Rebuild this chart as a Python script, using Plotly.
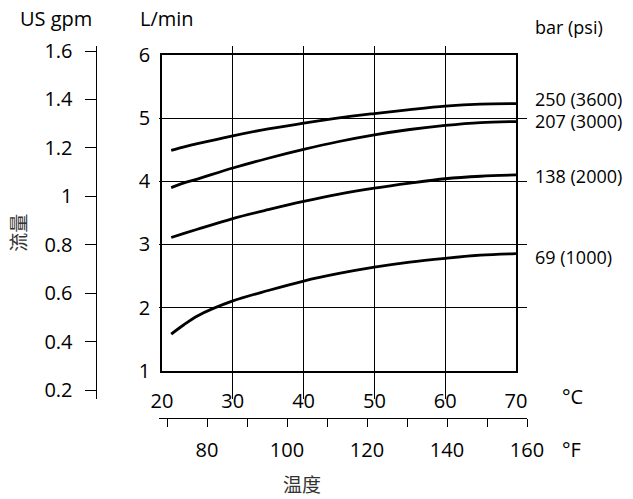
import plotly.graph_objects as go

# ---------------- data ----------------
temp_c = [21.3, 23, 25, 30, 35, 40, 45, 50, 55, 60, 65, 70]
flow_250 = [4.49, 4.54, 4.595, 4.72, 4.83, 4.92, 5.005, 5.073, 5.135, 5.19, 5.222, 5.23]
flow_207 = [3.90, 3.97, 4.035, 4.21, 4.365, 4.505, 4.63, 4.735, 4.82, 4.885, 4.93, 4.946]
flow_138 = [3.11, 3.17, 3.24, 3.41, 3.55, 3.68, 3.795, 3.89, 3.97, 4.04, 4.08, 4.10]
flow_69 = [1.58, 1.72, 1.867, 2.105, 2.27, 2.42, 2.54, 2.64, 2.72, 2.78, 2.83, 2.855]
series = [flow_250, flow_207, flow_138, flow_69]
pressure_labels = ["250 (3600)", "207 (3000)", "138 (2000)", "69 (1000)"]

lpm_ticks = [1, 2, 3, 4, 5, 6]
c_ticks = [20, 30, 40, 50, 60, 70]
gpm_ticks = [0.2, 0.4, 0.6, 0.8, 1.0, 1.2, 1.4, 1.6]
gpm_labels = ["0.2", "0.4", "0.6", "0.8", "1", "1.2", "1.4", "1.6"]
f_ticks = [70, 80, 90, 100, 110, 120, 130, 140, 150, 160]
f_labels = ["", "80", "", "100", "", "120", "", "140", "", "160"]

# ---------------- layout helpers ----------------
W, H = 633, 499
ML, MR, MT, MB = 80, 90, 40, 50
PW = W - ML - MR
PH = H - MT - MB


def px(x):
    return (x - ML) / PW


def py(y):
    return (H - MB - y) / PH


FONT = "Open Sans, Noto Sans, sans-serif"
CJK = "Noto Sans CJK SC"

fig = go.Figure()
for vals in series:
    fig.add_trace(go.Scatter(x=temp_c, y=vals, mode="lines",
                             line=dict(color="black", width=2.8, shape="spline", smoothing=0.9),
                             showlegend=False, hoverinfo="skip"))
# dummy traces to attach secondary axes
fig.add_trace(go.Scatter(x=[None], y=[None], xaxis="x", yaxis="y2", showlegend=False, hoverinfo="skip"))
fig.add_trace(go.Scatter(x=[None], y=[None], xaxis="x2", yaxis="y", showlegend=False, hoverinfo="skip"))

fig.update_layout(
    width=W, height=H,
    margin=dict(l=ML, r=MR, t=MT, b=MB),
    paper_bgcolor="white", plot_bgcolor="rgba(0,0,0,0)",
    font=dict(family=FONT, size=20, color="black"),
    xaxis=dict(domain=[px(162), px(516)], range=[20, 70], tickvals=c_ticks,
               showgrid=True, gridcolor="black", gridwidth=1,
               showline=True, linecolor="black", linewidth=1.6, mirror=True,
               ticks="", ticklabelstandoff=11, zeroline=False, anchor="y"),
    yaxis=dict(domain=[py(370.7), py(55)], range=[1, 6], tickvals=lpm_ticks,
               showgrid=True, gridcolor="black", gridwidth=1,
               showline=True, linecolor="black", linewidth=1.6, mirror=True,
               ticks="", ticklabelstandoff=6, zeroline=False, anchor="x"),
    yaxis2=dict(domain=[py(399), py(45.7)], range=[0.164, 1.622], anchor="free",
                position=px(95.7), tickvals=gpm_ticks, ticktext=gpm_labels,
                showgrid=False, showline=True, linecolor="black", linewidth=1.4,
                ticks="outside", ticklen=11, tickwidth=1.4, tickcolor="black",
                ticklabelstandoff=8, zeroline=False, side="left"),
    xaxis2=dict(domain=[px(159), px(527)], range=[68, 160], anchor="free",
                position=py(417.7), tickvals=f_ticks, ticktext=f_labels,
                showgrid=False, showline=True, linecolor="black", linewidth=1.4,
                ticks="outside", ticklen=8, tickwidth=1.4, tickcolor="black",
                ticklabelstandoff=6, zeroline=False, side="bottom"),
)

annotations = [
    dict(text="US gpm", x=px(18), y=py(18), xanchor="left", yanchor="middle"),
    dict(text="L/min", x=px(138), y=py(18), xanchor="left", yanchor="middle"),
    dict(text="bar (psi)", x=px(533), y=py(26.7), xanchor="left", yanchor="middle",
         font=dict(size=18)),
    dict(text="°C", x=px(560), y=py(396.7), xanchor="left", yanchor="middle"),
    dict(text="°F", x=px(560), y=py(449), xanchor="left", yanchor="middle"),
    dict(text="流量", x=px(16.7), y=py(233), xanchor="center", yanchor="middle",
         textangle=-90, font=dict(family=CJK, size=19, color="#333333")),
    dict(text="温度", x=px(301.7), y=py(484), xanchor="center", yanchor="middle",
         font=dict(family=CJK, size=19, color="#333333")),
]
for a in annotations:
    a.update(xref="paper", yref="paper", showarrow=False)
    fig.add_annotation(**a)

label_shift = [5, 1, -1, -3]
for lab, vals, dy in zip(pressure_labels, series, label_shift):
    fig.add_annotation(text=lab, x=temp_c[-1], y=vals[-1], xref="x", yref="y",
                       xanchor="left", yanchor="middle", xshift=17, yshift=dy,
                       showarrow=False, font=dict(size=18))

fig.write_html("out.html", config={"displayModeBar": False},
               post_script="document.body.style.margin='0';")
